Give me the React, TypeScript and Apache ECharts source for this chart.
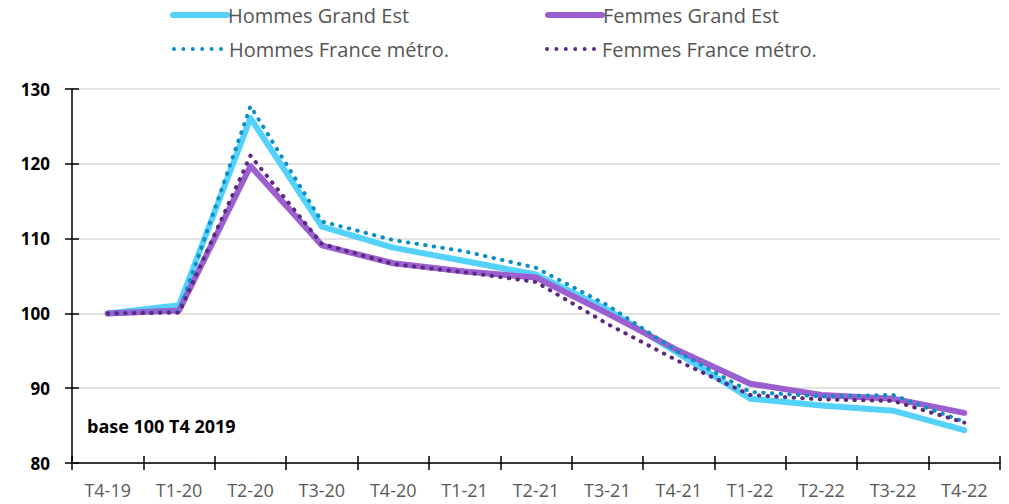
import React, { useEffect, useRef } from "react";
import * as echarts from "echarts";

const categories = ["T4-19", "T1-20", "T2-20", "T3-20", "T4-20", "T1-21", "T2-21", "T3-21", "T4-21", "T1-22", "T2-22", "T3-22", "T4-22"];
const hommesGrandEst = [100, 101.1, 126.1, 111.6, 108.8, 107.0, 105.2, 100.5, 94.6, 88.6, 87.7, 87.0, 84.4];
const femmesGrandEst = [100, 100.4, 119.7, 109.1, 106.7, 105.6, 104.8, 100.0, 95.0, 90.6, 89.1, 88.6, 86.7];
const hommesFrance = [100, 100.2, 127.7, 112.3, 109.8, 108.3, 106.1, 101.1, 94.8, 89.5, 88.9, 89.1, 85.5];
const femmesFrance = [100, 100.1, 121.1, 109.3, 106.6, 105.5, 104.2, 98.6, 93.6, 89.1, 88.5, 88.3, 85.4];
const yTicks = [80, 90, 100, 110, 120, 130];

const FONT = "Open Sans";

const SOLID_ICON = "path://M3,0 H57 A3,3 0 0 1 57,6 H3 A3,3 0 0 1 3,0 Z";
const dot = (cx: number) => `M${cx - 2},2 a2,2 0 1,0 4,0 a2,2 0 1,0 -4,0 Z `;
const DOTTED_ICON = "path://" + [2, 11.4, 20.8, 30.2, 39.6, 49].map(dot).join("");

export default function App() {
  const ref = useRef<HTMLDivElement>(null);
  useEffect(() => {
    if (!ref.current) return;
    const chart = echarts.init(ref.current, undefined, { renderer: "svg" });
    const legendText = { color: "#555555", fontSize: 20, fontFamily: FONT, padding: [0, 0, 0, -7] };
    const solid = (name: string, data: number[], color: string) => ({
      name,
      type: "line",
      data,
      symbol: "none",
      lineStyle: { color, width: 6, cap: "round", join: "round" },
      itemStyle: { color },
      z: 2,
    });
    const dotted = (name: string, data: number[], color: string) => ({
      name,
      type: "line",
      data,
      symbol: "none",
      lineStyle: { color, width: 4, type: [0.5, 8.2], cap: "round", join: "round" },
      itemStyle: { color },
      z: 3,
    });
    chart.setOption({
      animation: false,
      textStyle: { fontFamily: FONT },
      grid: { left: 72, right: 9, top: 89, bottom: 41, containLabel: false },
      legend: [
        { data: [{ name: "Hommes Grand Est", icon: SOLID_ICON }], left: 165, top: 0, itemWidth: 60, itemHeight: 6, textStyle: legendText },
        { data: [{ name: "Femmes Grand Est", icon: SOLID_ICON }], left: 540, top: 0, itemWidth: 60, itemHeight: 6, textStyle: legendText },
        { data: [{ name: "Hommes France métro.", icon: DOTTED_ICON }], left: 167, top: 34, itemWidth: 51, itemHeight: 4, textStyle: { ...legendText, padding: [0, 0, 0, 1] } },
        { data: [{ name: "Femmes France métro.", icon: DOTTED_ICON }], left: 540, top: 34, itemWidth: 51, itemHeight: 4, textStyle: { ...legendText, padding: [0, 0, 0, 1] } },
      ],
      xAxis: [
        {
          type: "category",
          data: categories,
          boundaryGap: true,
          axisLine: { show: true, lineStyle: { color: "#000", width: 1.5 } },
          axisTick: { show: true, length: 7, lineStyle: { color: "#000", width: 1.5 } },
          axisLabel: { color: "#595959", fontSize: 18, fontFamily: FONT, margin: 18 },
        },
        {
          type: "category",
          data: categories,
          position: "bottom",
          boundaryGap: true,
          axisLine: { show: false },
          axisTick: { show: true, inside: true, length: 7, lineStyle: { color: "#000", width: 1.5 } },
          axisLabel: { show: false },
        },
      ],
      yAxis: [
        {
          type: "value",
          min: yTicks[0],
          max: yTicks[yTicks.length - 1],
          interval: 10,
          axisLine: { show: true, lineStyle: { color: "#000", width: 1.5 } },
          axisTick: { show: true, length: 7, lineStyle: { color: "#000", width: 1.5 } },
          axisLabel: { color: "#000", fontSize: 17, fontWeight: "bold", fontFamily: FONT, margin: 22 },
          splitLine: { show: true, lineStyle: { color: "#d9d9d9", width: 1.5 } },
        },
        {
          type: "value",
          min: yTicks[0],
          max: yTicks[yTicks.length - 1],
          interval: 10,
          position: "left",
          axisLine: { show: false },
          axisTick: { show: true, inside: true, length: 7, lineStyle: { color: "#000", width: 1.5 } },
          axisLabel: { show: false },
          splitLine: { show: false },
        },
      ],
      graphic: [
        {
          type: "text",
          left: 87,
          top: 417,
          style: { text: "base 100 T4 2019", fontSize: 18, fontWeight: "bold", fontFamily: FONT, fill: "#000" },
        },
      ],
      series: [
        solid("Hommes Grand Est", hommesGrandEst, "#55d2fc"),
        solid("Femmes Grand Est", femmesGrandEst, "#9c5fcf"),
        dotted("Hommes France métro.", hommesFrance, "#0b8fc6"),
        dotted("Femmes France métro.", femmesFrance, "#5a2a82"),
      ],
    });
    return () => chart.dispose();
  }, []);
  return <div ref={ref} style={{ width: 1009, height: 504, position: "absolute", left: 0, top: 0 }} />;
}
